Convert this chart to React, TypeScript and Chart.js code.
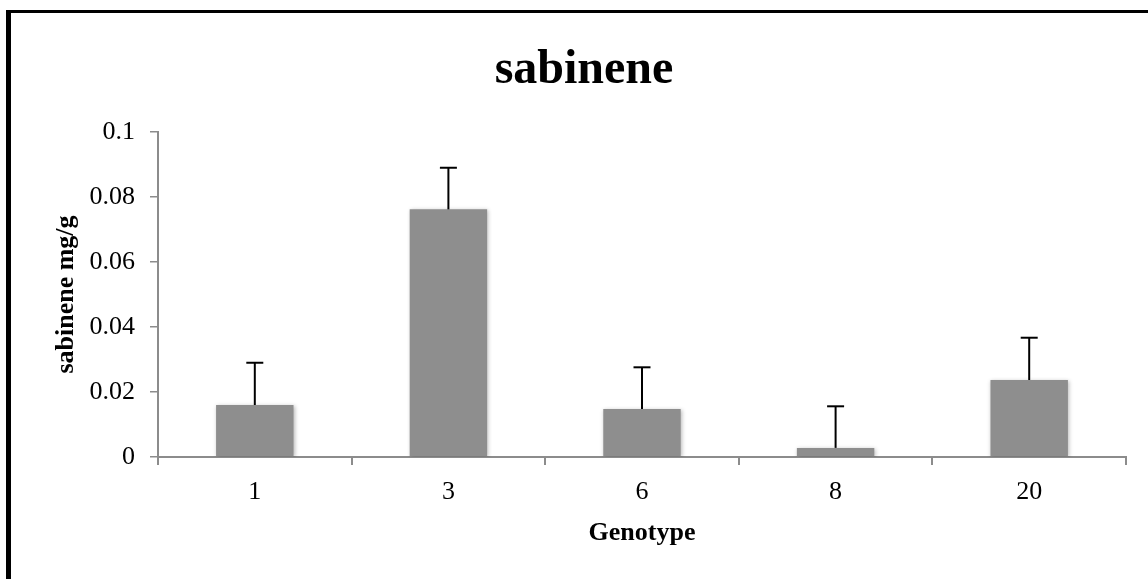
import React, { useEffect, useRef } from "react";
import { Chart, registerables } from "chart.js";

Chart.register(...registerables);

const categories = ["1", "3", "6", "8", "20"];
const values = [0.016, 0.0762, 0.0148, 0.0028, 0.0237];
const errors = [0.013, 0.0128, 0.0128, 0.0128, 0.013];
const yTickLabels = ["0", "0.02", "0.04", "0.06", "0.08", "0.1"];
const chartTitle = "sabinene";
const xTitle = "Genotype";
const yTitle = "sabinene mg/g";

const FONT = '"Liberation Serif", "Times New Roman", serif';
const AXIS_GRAY = "#8c8c8c";

const titlePlugin = {
  id: "customTitle",
  afterDraw(chart: any) {
    const ctx = chart.ctx;
    ctx.save();
    ctx.font = `bold 48px ${FONT}`;
    ctx.fillStyle = "#000";
    ctx.textAlign = "center";
    ctx.textBaseline = "alphabetic";
    ctx.fillText(chartTitle, 584, 83);
    ctx.restore();
  },
};

const shadowPlugin = {
  id: "barShadow",
  beforeDatasetsDraw(chart: any) {
    const ctx = chart.ctx;
    ctx.save();
    ctx.shadowColor = "rgba(0,0,0,0.28)";
    ctx.shadowBlur = 4;
    ctx.shadowOffsetX = 1;
    ctx.shadowOffsetY = 1;
  },
  afterDatasetsDraw(chart: any) {
    chart.ctx.restore();
  },
};

const errorBarPlugin = {
  id: "errorBars",
  afterDatasetsDraw(chart: any) {
    const ctx = chart.ctx;
    const meta = chart.getDatasetMeta(0);
    const yScale = chart.scales.y;
    ctx.save();
    ctx.strokeStyle = "#000";
    ctx.lineWidth = 2;
    meta.data.forEach((bar: any, i: number) => {
      const v = values[i];
      const top = yScale.getPixelForValue(v + errors[i]);
      const base = yScale.getPixelForValue(v);
      const x = bar.x;
      ctx.beginPath();
      ctx.moveTo(x, base);
      ctx.lineTo(x, top);
      ctx.stroke();
      ctx.beginPath();
      ctx.moveTo(x - 8.5, top);
      ctx.lineTo(x + 8.5, top);
      ctx.stroke();
    });
    ctx.restore();
  },
};

export default function App() {
  const ref = useRef<HTMLCanvasElement | null>(null);

  useEffect(() => {
    if (!ref.current) return;
    const chart = new Chart(ref.current, {
      type: "bar",
      data: {
        labels: categories,
        datasets: [
          {
            data: values,
            backgroundColor: "#8e8e8e",
            borderWidth: 0,
            barPercentage: 0.4,
            categoryPercentage: 1,
          },
        ],
      },
      options: {
        responsive: false,
        animation: false,
        devicePixelRatio: 1,
        layout: { padding: { left: 0, right: 22, top: 132, bottom: 0 } },
        plugins: {
          legend: { display: false },
          tooltip: { enabled: false },
          title: { display: false },
        },
        scales: {
          x: {
            afterFit: (scale: any) => {
              scale.height = 122;
            },
            border: { color: AXIS_GRAY, width: 2 },
            grid: {
              offset: true,
              drawOnChartArea: false,
              drawTicks: true,
              tickLength: 8,
              color: AXIS_GRAY,
              lineWidth: 2,
            },
            ticks: {
              color: "#000",
              font: { family: FONT, size: 26 },
              padding: 12,
            },
            title: {
              display: true,
              text: xTitle,
              color: "#000",
              font: { family: FONT, size: 26, weight: "bold" },
              padding: { top: 0, bottom: 30 },
            },
          },
          y: {
            min: 0,
            max: 0.1,
            afterFit: (scale: any) => {
              scale.width = 158;
            },
            border: { color: AXIS_GRAY, width: 2 },
            grid: {
              drawOnChartArea: false,
              drawTicks: true,
              tickLength: 8,
              color: AXIS_GRAY,
              lineWidth: 1.5,
            },
            ticks: {
              stepSize: 0.02,
              color: "#000",
              font: { family: FONT, size: 26 },
              padding: 15,
              callback: (_v: any, i: number) => yTickLabels[i],
            },
            title: {
              display: true,
              text: yTitle,
              color: "#000",
              font: { family: FONT, size: 26, weight: "bold" },
              padding: { top: 51, bottom: 0 },
            },
          },
        },
      },
      plugins: [shadowPlugin, errorBarPlugin, titlePlugin],
    } as any);
    return () => chart.destroy();
  }, []);

  return (
    <div style={{ position: "fixed", left: 0, top: 0, width: 1148, height: 579, background: "#fff" }}>
      <canvas ref={ref} width={1148} height={579} style={{ position: "absolute", left: 0, top: 0 }} />
      <div
        style={{
          position: "absolute",
          left: 6,
          top: 10,
          width: 1142,
          height: 569,
          borderTop: "3px solid #000",
          borderLeft: "5px solid #000",
          boxSizing: "border-box",
          pointerEvents: "none",
        }}
      />
    </div>
  );
}
